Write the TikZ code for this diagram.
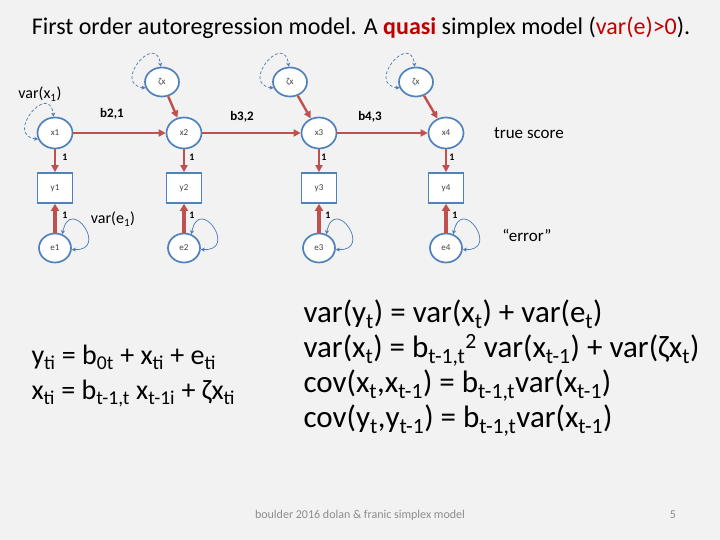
\documentclass[tikz,border=0pt]{standalone}
\usepackage{fontspec}
\setmainfont{Carlito}
\usetikzlibrary{shapes.geometric,arrows.meta}
\definecolor{bgc}{HTML}{F2F2F2}
\definecolor{pathred}{HTML}{C0504D}
\definecolor{nodeblue}{HTML}{4F81BD}
\definecolor{loopblue}{HTML}{4A78B0}
\definecolor{titred}{HTML}{C00000}
\definecolor{foot}{HTML}{8C8C8C}
\newcommand{\sbx}[1]{\textsubscript{#1}}
\tikzset{
  lat/.style={ellipse, draw=nodeblue, line width=1.7pt, fill=white, minimum width=35pt, minimum height=31pt, inner sep=0pt, font=\fontsize{9}{10}\selectfont, text=black!75},
  obs/.style={rectangle, draw=nodeblue, line width=1.7pt, fill=white, minimum width=35pt, minimum height=30pt, inner sep=0pt, font=\fontsize{9}{10}\selectfont, text=black!75},
  regpath/.style={draw=pathred, line width=2.4pt, -{Triangle[length=7pt,width=7pt]}},
  errpath/.style={draw=pathred, line width=3.6pt, -{Triangle[length=7pt,width=8pt]}},
  varloop/.style={draw=loopblue, line width=0.7pt, {Stealth[length=4pt,width=4pt]}-{Stealth[length=4pt,width=4pt]}},
  coef/.style={font=\fontsize{13}{14}\selectfont\bfseries},
  one/.style={font=\fontsize{10}{11}\selectfont\bfseries},
  side/.style={font=\fontsize{17}{19}\selectfont},
  lefteq/.style={anchor=base west, font=\fontsize{28}{34}\selectfont},
  righteq/.style={anchor=base west, font=\fontsize{31}{36}\selectfont}
}
\begin{document}
\begin{tikzpicture}[x=1pt,y=1pt]
\fill[bgc] (0,0) rectangle (720,540);
\useasboundingbox (0,0) rectangle (720,540);

\node[font=\fontsize{24}{28}\selectfont] (title) at (361,512) {First order autoregression model. A {\color{titred}\bfseries quasi} simplex model ({\color{titred}var(e)>0}).};

% latent x
\node[lat] (x1) at (55,407) {x1};
\node[lat] (x2) at (184,407) {x2};
\node[lat] (x3) at (319,407) {x3};
\node[lat] (x4) at (446,407) {x4};
% zeta
\node[lat, minimum width=34pt, minimum height=29pt] (z2) at (162,458) {ζx};
\node[lat, minimum width=34pt, minimum height=29pt] (z3) at (290,458) {ζx};
\node[lat, minimum width=34pt, minimum height=29pt] (z4) at (416,458) {ζx};
% observed
\node[obs] (y1) at (55,352) {y1};
\node[obs] (y2) at (184,352) {y2};
\node[obs] (y3) at (319,352) {y3};
\node[obs] (y4) at (446,352) {y4};
% errors
\node[lat, minimum width=32pt, minimum height=29pt] (e1) at (55,292) {e1};
\node[lat, minimum width=32pt, minimum height=29pt] (e2) at (184,292) {e2};
\node[lat, minimum width=32pt, minimum height=29pt] (e3) at (319,292) {e3};
\node[lat, minimum width=32pt, minimum height=29pt] (e4) at (446,292) {e4};

% regression paths
\draw[regpath] (x1) -- (x2);
\draw[regpath] (x2) -- (x3);
\draw[regpath] (x3) -- (x4);
\draw[regpath] (z2) -- (x2);
\draw[regpath] (z3) -- (x3);
\draw[regpath] (z4) -- (x4);
\foreach \i in {1,2,3,4}{
  \draw[regpath] (x\i) -- (y\i);
  \draw[errpath] (e\i) -- (y\i);
}

% variance loops
\foreach \n in {x1,z2,z3,z4}{
  \draw[varloop, densely dashed] (\n.200) .. controls +(-34,4) and +(-4,36) .. (\n.95);
}
\foreach \n in {e1,e2,e3,e4}{
  \draw[varloop] (\n.62) .. controls +(8,40) and +(38,-2) .. (\n.355);
}

% labels
\node[coef] (b21) at (112,426) {b2,1};
\node[coef] (b32) at (242,423) {b3,2};
\node[coef] (b43) at (370,423) {b4,3};
\node[one] (l1) at (65,383) {1};
\node[one] (l2) at (192,383) {1};
\node[one] (l3) at (324,383) {1};
\node[one] (l4) at (452,383) {1};
\node[one] (m1) at (65,325) {1};
\node[one] (m2) at (192,325) {1};
\node[one] (m3) at (328,325) {1};
\node[one] (m4) at (455,325) {1};
\node[font=\fontsize{16}{18}\selectfont] (vx1) at (40,446) {var(x\sbx{1})};
\node[font=\fontsize{16}{18}\selectfont] (ve1) at (113,321) {var(e\sbx{1})};
\node[side] (ts) at (529,407) {true score};
\node[side] (err) at (527,305) {“error”};

% equations
\node[lefteq] (eq1) at (28,175) {y\sbx{ti} = b\sbx{0t} + x\sbx{ti} + e\sbx{ti}};
\node[lefteq] (eq2) at (28,140) {x\sbx{ti} = b\sbx{t-1,t} x\sbx{t-1i} + ζx\sbx{ti}};

\node[righteq] (r1) at (300,217) {var(y\sbx{t}) = var(x\sbx{t}) + var(e\sbx{t})};
\node[righteq] (r2) at (300,182) {var(x\sbx{t}) = b\sbx{t-1,t}\textsuperscript{2} var(x\sbx{t-1}) + var(ζx\sbx{t})};
\node[righteq] (r3) at (300,147) {cov(x\sbx{t},x\sbx{t-1}) = b\sbx{t-1,t}var(x\sbx{t-1})};
\node[righteq] (r4) at (300,112) {cov(y\sbx{t},y\sbx{t-1}) = b\sbx{t-1,t}var(x\sbx{t-1})};

% footer
\node[font=\fontsize{12}{14}\selectfont, text=foot] (foot) at (360,25) {boulder 2016 dolan \& franic simplex model};
\node[font=\fontsize{12}{14}\selectfont, text=foot] (page) at (673,25) {5};
\end{tikzpicture}
\end{document}
